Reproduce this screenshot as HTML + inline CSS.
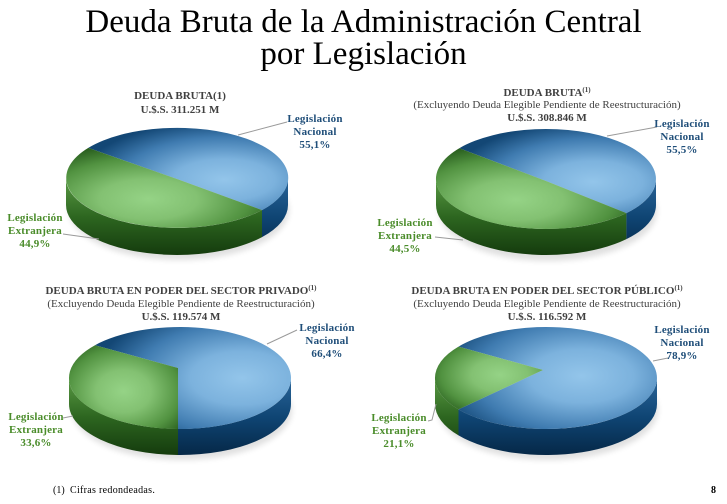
<!DOCTYPE html>
<html><head><meta charset="utf-8">
<style>
html,body{margin:0;padding:0;background:#fff;}
body{width:727px;height:504px;position:relative;overflow:hidden;font-family:"Liberation Serif",serif;}
.abs{position:absolute;white-space:nowrap;text-align:center;}
.main{left:0;top:6px;width:727px;font-size:33px;line-height:32px;color:#000;}
.ttl{font-size:11px;color:#404040;}
.ttl b{font-weight:bold;}
.ttl sup{font-size:7px;line-height:0;vertical-align:4px;font-weight:bold;}
.nac{font-size:11px;line-height:13px;font-weight:bold;color:#1f4e79;width:90px;letter-spacing:0.2px;}
.ext{font-size:11px;line-height:13px;font-weight:bold;color:#4a8c2a;width:90px;letter-spacing:0.2px;}
</style></head>
<body>
<svg width="727" height="504" style="position:absolute;left:0;top:0">
<defs>
 <filter id="sh" x="-20%" y="-50%" width="140%" height="200%"><feGaussianBlur stdDeviation="3"/></filter>
 <radialGradient id="b1" cx="0.68" cy="0.63" r="0.72"><stop offset="0" stop-color="#93c5ea"/><stop offset="0.35" stop-color="#7cb2dd"/><stop offset="0.72" stop-color="#3f7bb0"/><stop offset="1" stop-color="#134775"/></radialGradient>
 <radialGradient id="g1" cx="0.42" cy="0.64" r="0.72"><stop offset="0" stop-color="#95d386"/><stop offset="0.35" stop-color="#83c172"/><stop offset="0.72" stop-color="#519240"/><stop offset="1" stop-color="#24581a"/></radialGradient>
 <radialGradient id="b3" cx="0.75" cy="0.5" r="0.75"><stop offset="0" stop-color="#93c5ea"/><stop offset="0.35" stop-color="#7cb2dd"/><stop offset="0.72" stop-color="#3f7bb0"/><stop offset="1" stop-color="#134775"/></radialGradient>
 <radialGradient id="g3" cx="0.5" cy="0.55" r="0.72"><stop offset="0" stop-color="#95d386"/><stop offset="0.35" stop-color="#83c172"/><stop offset="0.72" stop-color="#519240"/><stop offset="1" stop-color="#24581a"/></radialGradient>
 <radialGradient id="b4" cx="0.62" cy="0.48" r="0.75"><stop offset="0" stop-color="#93c5ea"/><stop offset="0.35" stop-color="#7cb2dd"/><stop offset="0.72" stop-color="#3f7bb0"/><stop offset="1" stop-color="#134775"/></radialGradient>
 <radialGradient id="g4" cx="0.6" cy="0.45" r="0.75"><stop offset="0" stop-color="#95d386"/><stop offset="0.35" stop-color="#83c172"/><stop offset="0.72" stop-color="#519240"/><stop offset="1" stop-color="#24581a"/></radialGradient>
 <linearGradient id="gsA" gradientUnits="userSpaceOnUse" x1="0" y1="178" x2="0" y2="256"><stop offset="0" stop-color="#5a9a44"/><stop offset="0.5" stop-color="#2d6620"/><stop offset="1" stop-color="#143a0d"/></linearGradient>
 <linearGradient id="bsA" gradientUnits="userSpaceOnUse" x1="0" y1="178" x2="0" y2="256"><stop offset="0" stop-color="#2a6599"/><stop offset="0.5" stop-color="#0f4574"/><stop offset="1" stop-color="#052746"/></linearGradient>
 <linearGradient id="gsB" gradientUnits="userSpaceOnUse" x1="0" y1="378" x2="0" y2="456"><stop offset="0" stop-color="#5a9a44"/><stop offset="0.5" stop-color="#2d6620"/><stop offset="1" stop-color="#143a0d"/></linearGradient>
 <linearGradient id="bsB" gradientUnits="userSpaceOnUse" x1="0" y1="378" x2="0" y2="456"><stop offset="0" stop-color="#2a6599"/><stop offset="0.5" stop-color="#0f4574"/><stop offset="1" stop-color="#052746"/></linearGradient>
</defs>

<!-- shadows -->
<ellipse cx="179" cy="210" rx="110" ry="50" fill="#000" opacity="0.12" filter="url(#sh)"/>
<ellipse cx="548" cy="211" rx="109" ry="50" fill="#000" opacity="0.12" filter="url(#sh)"/>
<ellipse cx="182" cy="410" rx="110" ry="50" fill="#000" opacity="0.12" filter="url(#sh)"/>
<ellipse cx="548" cy="410" rx="110" ry="50" fill="#000" opacity="0.12" filter="url(#sh)"/>

<!-- Chart 1 -->
<path d="M262 210.1 A111 50 0 0 1 66 178 L66 205 A111 50 0 0 0 262 237.1 Z" fill="url(#gsA)"/>
<path d="M288 178 A111 50 0 0 1 262 210.1 L262 237.1 A111 50 0 0 0 288 205 Z" fill="url(#bsA)"/>
<path d="M177 179 L88.3 147.9 A111 50 0 1 1 262 210.1 Z" fill="url(#b1)"/>
<path d="M177 179 L262 210.1 A111 50 0 0 1 88.3 147.9 Z" fill="url(#g1)"/>

<!-- Chart 2 -->
<path d="M626.4 213.1 A110 50 0 0 1 436 179 L436 205 A110 50 0 0 0 626.4 239.1 Z" fill="url(#gsA)"/>
<path d="M656 179 A110 50 0 0 1 626.4 213.1 L626.4 239.1 A110 50 0 0 0 656 205 Z" fill="url(#bsA)"/>
<path d="M546 181 L459.3 148.2 A110 50 0 1 1 626.4 213.1 Z" fill="url(#b1)"/>
<path d="M546 181 L626.4 213.1 A110 50 0 0 1 459.3 148.2 Z" fill="url(#g1)"/>

<!-- Chart 3 -->
<path d="M178 429 A111 51 0 0 1 69 378 L69 404 A111 51 0 0 0 178 455 Z" fill="url(#gsB)"/>
<path d="M291 378 A111 51 0 0 1 178 429 L178 455 A111 51 0 0 0 291 404 Z" fill="url(#bsB)"/>
<path d="M178 368 L95 345.2 A111 51 0 1 1 178 429 Z" fill="url(#b3)"/>
<path d="M178 368 L178 429 A111 51 0 0 1 95 345.2 Z" fill="url(#g3)"/>

<!-- Chart 4 -->
<path d="M458.5 409.4 A111 51 0 0 1 435 378 L435 404 A111 51 0 0 0 458.5 435.4 Z" fill="url(#gsB)"/>
<path d="M657 378 A111 51 0 0 1 458.5 409.4 L458.5 435.4 A111 51 0 0 0 657 404 Z" fill="url(#bsB)"/>
<path d="M543 370 L458.5 346.6 A111 51 0 1 1 458.5 409.4 Z" fill="url(#b4)"/>
<path d="M543 370 L458.5 409.4 A111 51 0 0 1 458.5 346.6 Z" fill="url(#g4)"/>

<!-- leader lines -->
<g stroke="#9a9a9a" stroke-width="1" fill="none">
 <line x1="238" y1="135" x2="287" y2="122"/>
 <line x1="63" y1="234" x2="99" y2="239"/>
 <line x1="607" y1="136" x2="657" y2="127"/>
 <line x1="435" y1="237" x2="463" y2="240"/>
 <line x1="267" y1="344" x2="297" y2="330"/>
 <line x1="63" y1="418" x2="73" y2="416"/>
 <line x1="653" y1="361" x2="668" y2="358"/>
 <polyline points="428,421 432,420 436,404"/>
</g>
</svg>

<div class="abs main">Deuda Bruta de la Administración Central<br>por Legislación</div>

<!-- Chart titles -->
<div class="abs ttl" style="left:0;width:360px;top:89px;line-height:14px;"><b>DEUDA BRUTA(1)</b><br><b>U.$.S. 311.251 M</b></div>
<div class="abs ttl" style="left:367px;width:360px;top:86.5px;line-height:12.5px;"><b>DEUDA BRUTA<sup>(1)</sup></b><br>(Excluyendo Deuda Elegible Pendiente de Reestructuración)<br><b>U.$.S. 308.846 M</b></div>
<div class="abs ttl" style="left:1px;width:360px;top:284.5px;line-height:13px;"><b>DEUDA BRUTA EN PODER DEL SECTOR PRIVADO<sup>(1)</sup></b><br>(Excluyendo Deuda Elegible Pendiente de Reestructuración)<br><b>U.$.S. 119.574 M</b></div>
<div class="abs ttl" style="left:367px;width:360px;top:284.5px;line-height:13px;"><b>DEUDA BRUTA EN PODER DEL SECTOR PÚBLICO<sup>(1)</sup></b><br>(Excluyendo Deuda Elegible Pendiente de Reestructuración)<br><b>U.$.S. 116.592 M</b></div>

<!-- Labels -->
<div class="abs nac" style="left:270px;top:113px;">Legislación<br>Nacional<br>55,1%</div>
<div class="abs ext" style="left:-10px;top:211.5px;">Legislación<br>Extranjera<br>44,9%</div>
<div class="abs nac" style="left:637px;top:117.5px;">Legislación<br>Nacional<br>55,5%</div>
<div class="abs ext" style="left:360px;top:216.5px;">Legislación<br>Extranjera<br>44,5%</div>
<div class="abs nac" style="left:282px;top:321.5px;">Legislación<br>Nacional<br>66,4%</div>
<div class="abs ext" style="left:-9px;top:410.5px;">Legislación<br>Extranjera<br>33,6%</div>
<div class="abs nac" style="left:637px;top:323.5px;">Legislación<br>Nacional<br>78,9%</div>
<div class="abs ext" style="left:354px;top:411.5px;">Legislación<br>Extranjera<br>21,1%</div>

<!-- footnote -->
<div class="abs" style="left:53px;top:485px;font-size:10px;line-height:12px;color:#000;text-align:left;">(1)</div>
<div class="abs" style="left:70px;top:485px;font-size:10px;line-height:12px;color:#000;text-align:left;letter-spacing:0.3px;">Cifras redondeadas.</div>
<div class="abs" style="left:711px;top:485px;font-size:10px;line-height:12px;color:#000;font-weight:bold;">8</div>
</body></html>
